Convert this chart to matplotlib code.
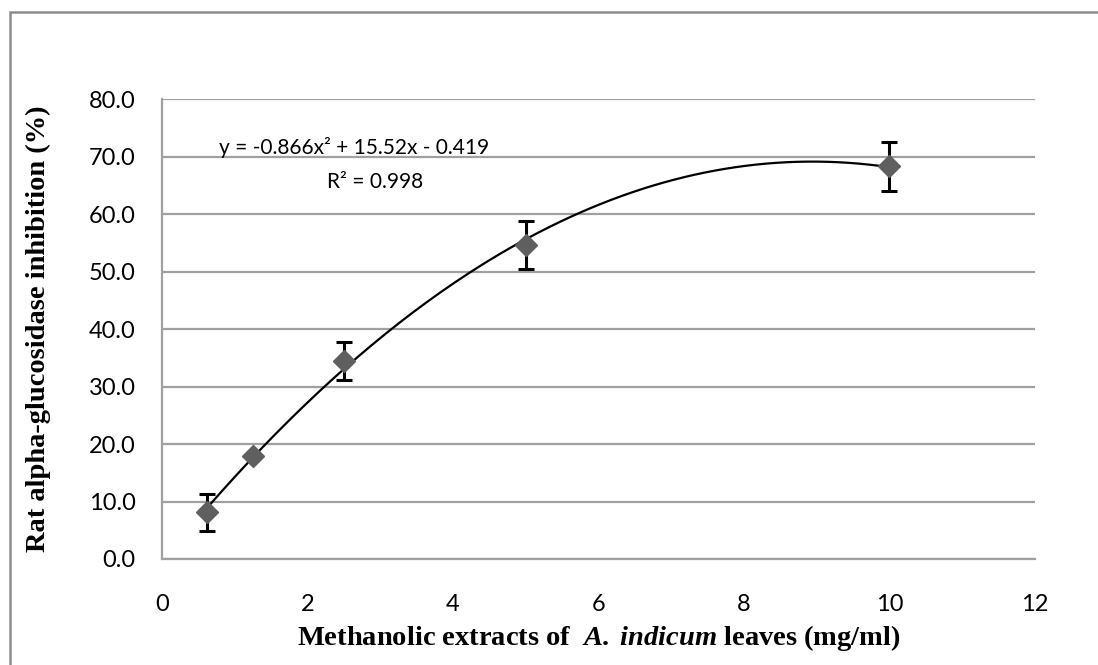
import numpy as np
from matplotlib import pyplot as plt
from matplotlib.patches import Rectangle

# concentration (mg/ml) and inhibition (%)
conc = [0.625, 1.25, 2.5, 5.0, 10.0]
inhib = [8.1, 17.9, 34.5, 54.6, 68.3]
err = [3.2, 0.0, 3.3, 4.2, 4.3]

eq_text = "y = -0.866x² + 15.52x - 0.419"
r2_text = "R² = 0.998"

plt.rcParams['font.family'] = ['Lato', 'DejaVu Sans']
plt.rcParams['mathtext.fontset'] = 'custom'
plt.rcParams['mathtext.bfit'] = 'Liberation Serif:bold:italic'
plt.rcParams['mathtext.rm'] = 'Liberation Serif:bold'

fig = plt.figure(figsize=(10.98, 6.65), dpi=100)
ax = fig.add_axes([0.1475, 0.1594, 0.7951, 0.6917])

# outer chart frame
fig.patches.append(Rectangle((0.0091, -0.1), 1.2, 1.0820, transform=fig.transFigure,
                             fill=False, edgecolor='#8c8c8c', linewidth=1.8, zorder=0))

# second order trendline from the points
coef = np.polyfit(conc, inhib, 2)
xs = np.linspace(conc[0], conc[-1], 200)
ax.plot(xs, np.polyval(coef, xs), color='black', lw=1.6, zorder=3)

ax.errorbar(conc, inhib, yerr=err, fmt='none', ecolor='black', elinewidth=2.2,
            capsize=6, capthick=2.2, zorder=4)
ax.plot(conc, inhib, 'D', color='#5f5f5f', ms=11, mec='#5f5f5f', zorder=5)

ax.set_xlim(0, 12)
ax.set_ylim(0, 80)
ax.set_xticks(range(0, 13, 2))
ax.set_yticks(np.arange(0, 81, 10))
ax.set_yticklabels(["%.1f" % v for v in np.arange(0, 81, 10)])
ax.tick_params(length=0, labelsize=17)
ax.tick_params(axis='x', pad=25)
ax.tick_params(axis='y', pad=19)
ax.yaxis.grid(True, color='#a0a0a0', lw=1.6)
ax.set_axisbelow(True)
for s in ['top', 'right']:
    ax.spines[s].set_visible(False)
for s in ['left', 'bottom']:
    ax.spines[s].set_color('#a0a0a0')
    ax.spines[s].set_linewidth(1.6)

ax.text(2.64, 71.6, eq_text, fontsize=15, ha='center', va='center')
ax.text(2.93, 65.6, r2_text, fontsize=15, ha='center', va='center')

ax.set_ylabel("Rat alpha-glucosidase inhibition (%)", family='Liberation Serif',
              fontweight='bold', fontsize=20.5, labelpad=27)
ax.set_xlabel(r"Methanolic extracts of  $\mathbfit{A.\,indicum}$ leaves (mg/ml)",
              family='Liberation Serif', fontweight='bold', fontsize=20.5, labelpad=6)

fig.savefig("out.png", dpi=100)
